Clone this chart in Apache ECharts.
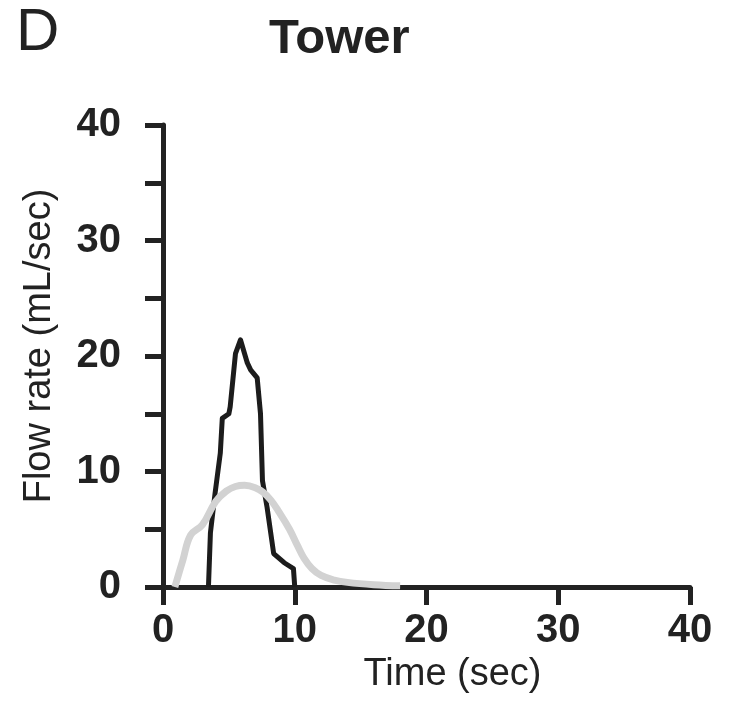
<!DOCTYPE html>
<html>
<head>
<meta charset="utf-8">
<script src="https://cdn.jsdelivr.net/npm/echarts@6/dist/echarts.min.js"></script>
<style>
  html, body { margin: 0; padding: 0; background: #ffffff; }
  #chart { width: 729px; height: 701px; }
</style>
</head>
<body>
<div id="chart"></div>
<script>
// Panel / titles
var panelLetter = 'D';
var chartTitle = 'Tower';
var xAxisName = 'Time (sec)';
var yAxisName = 'Flow rate (mL/sec)';

// Axis ranges / ticks
var xMin = 0, xMax = 40, xInterval = 10;
var yMin = 0, yMax = 40, yInterval = 5, yLabelEvery = 10;

// Black trace: [time (sec), flow rate (mL/sec)]
var blackTime = [3.45, 3.6, 3.95, 4.35, 4.5, 5.0, 5.1, 5.5, 5.88, 6.4, 6.65, 7.15, 7.4, 7.55, 7.9, 8.4, 9.2, 9.9, 10.0];
var blackFlow = [0, 4.7, 8.1, 11.6, 14.6, 15.0, 15.6, 20.2, 21.4, 19.4, 18.8, 18.1, 15.0, 9.2, 6.9, 2.9, 2.1, 1.6, 0];

// Gray trace: [time (sec), flow rate (mL/sec)]
var grayTime = [0.9, 1.5, 2.1, 3.0, 4.0, 4.8, 5.5, 6.2, 7.0, 7.6, 8.2, 8.8, 9.6, 10.2, 10.7, 11.3, 12.0, 13.0, 14.0, 16.0, 18.0];
var grayFlow = [0, 2.3, 4.5, 5.4, 7.4, 8.3, 8.7, 8.8, 8.6, 8.2, 7.5, 6.5, 5.0, 3.6, 2.5, 1.6, 1.0, 0.6, 0.4, 0.2, 0.1];

function pairs(xs, ys) {
  var out = [];
  for (var i = 0; i < xs.length; i++) out.push([xs[i], ys[i]]);
  return out;
}

var FONT = 'Liberation Sans, Arial, Helvetica, sans-serif';
var AXIS_COLOR = '#222222';

var chart = echarts.init(document.getElementById('chart'), null, { renderer: 'canvas' });
chart.setOption({
  backgroundColor: '#ffffff',
  animation: false,
  title: [
    { text: panelLetter, left: 11, top: -2,
      textStyle: { fontFamily: FONT, fontSize: 60, fontWeight: 'normal', color: '#222' } },
    { text: chartTitle, left: 264, top: 10,
      textStyle: { fontFamily: FONT, fontSize: 49, fontWeight: 'bold', color: '#222' } }
  ],
  grid: { left: 163, right: 39, top: 125, bottom: 114, containLabel: false },
  xAxis: {
    type: 'value', min: xMin, max: xMax, interval: xInterval,
    name: xAxisName, nameLocation: 'middle', nameGap: 64,
    nameTextStyle: { fontFamily: FONT, fontSize: 38, color: '#222', padding: [0, 0, 0, 52] },
    splitLine: { show: false },
    axisLine: { onZero: false, lineStyle: { color: AXIS_COLOR, width: 5 } },
    axisTick: { inside: false, length: 18, lineStyle: { color: AXIS_COLOR, width: 5 } },
    axisLabel: { margin: 24, fontFamily: FONT, fontSize: 40, fontWeight: 'bold', color: '#222' }
  },
  yAxis: {
    type: 'value', min: yMin, max: yMax, interval: yInterval,
    name: yAxisName, nameLocation: 'middle', nameGap: 104,
    nameTextStyle: { fontFamily: FONT, fontSize: 38, color: '#222', padding: [0, 0, 0, 20] },
    splitLine: { show: false },
    axisLine: { onZero: false, lineStyle: { color: AXIS_COLOR, width: 5 } },
    axisTick: { inside: false, length: 18, lineStyle: { color: AXIS_COLOR, width: 5 } },
    axisLabel: {
      margin: 42, fontFamily: FONT, fontSize: 40, fontWeight: 'bold', color: '#222',
      formatter: function (v) { return v % yLabelEvery === 0 ? String(v) : ''; }
    }
  },
  series: [
    {
      name: 'black', type: 'line', data: pairs(blackTime, blackFlow),
      showSymbol: false, symbol: 'none', smooth: false,
      lineStyle: { color: '#1c1c1c', width: 5, join: 'round' }, z: 2
    },
    {
      name: 'gray', type: 'line', data: pairs(grayTime, grayFlow),
      showSymbol: false, symbol: 'none', smooth: 0.4,
      lineStyle: { color: '#d2d2d2', width: 7 }, z: 3
    }
  ]
});
</script>
</body>
</html>
